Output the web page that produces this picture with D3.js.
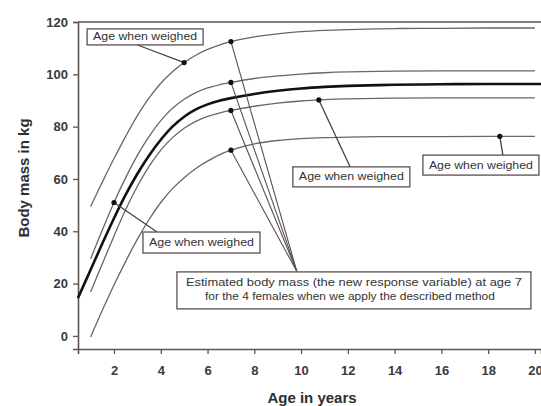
<!DOCTYPE html>
<html><head><meta charset="utf-8">
<script src="https://cdn.jsdelivr.net/npm/d3@7"></script>
<style>
body{margin:0;background:#fff;}
svg{display:block;font-family:"Liberation Sans",Arial,sans-serif;}
</style></head>
<body><svg id="c" width="541" height="406"></svg>
<script>
// ages (years) at which curve values were read
const agesThin = [1, 1.5, 2, 2.5, 3, 3.5, 4, 4.5, 5, 5.5, 6, 6.5, 7, 8, 9, 10, 11, 12, 14, 16, 18, 20];
const female1 = [49.5, 58.8, 67.8, 76.3, 84.2, 91, 96.6, 101, 104.5, 107.3, 109.5, 111.2, 112.5, 114.3, 115.5, 116.3, 116.8, 117.1, 117.5, 117.6, 117.7, 117.7];
const female2 = [29.5, 40.5, 51, 60.5, 69, 76.3, 82.3, 87, 90.5, 93, 94.8, 96, 96.9, 98.4, 99.4, 100.1, 100.6, 100.9, 101.2, 101.3, 101.3, 101.3];
const female3 = [16.8, 27.6, 38.2, 48.3, 57.2, 64.8, 71, 75.8, 79.4, 82, 83.9, 85.2, 86.2, 87.8, 89, 89.8, 90.3, 90.6, 90.9, 91, 91, 91];
const female4 = [-0.4, 9.8, 19.5, 28.5, 37, 44.5, 51, 56.3, 60.5, 64, 66.8, 69.2, 71, 73.4, 74.7, 75.4, 75.8, 76, 76.2, 76.2, 76.3, 76.3];
const agesMean = [0.46, 1, 1.5, 2, 2.5, 3, 3.5, 4, 4.5, 5, 5.5, 6, 6.5, 7, 8, 9, 10, 11, 12, 14, 16, 18, 20, 20.3];
const meanCurve = [14.5, 25.3, 35.3, 45, 54, 62, 69, 75, 80, 83.8, 86.6, 88.5, 89.9, 90.9, 92.5, 93.7, 94.6, 95.2, 95.6, 96, 96.2, 96.3, 96.3, 96.3];

// observed weighings (age, mass) and estimated mass at age 7
const weighedAge = [5, 2, 10.76, 18.5];
const weighedMass = [104.5, 51, 90.2, 76.3];
const age7 = 7;
const est7 = [112.5, 96.9, 86.2, 71];

const xTicks = [2, 4, 6, 8, 10, 12, 14, 16, 18, 20];
const yTicks = [0, 20, 40, 60, 80, 100, 120];

const labelText = "Age when weighed";
const noteLines = ["Estimated body mass (the new response variable) at age 7",
                   "for the 4 females when we apply the described method"];

const svg = d3.select("#c");
const x = d3.scaleLinear().domain([0.46, 20.26]).range([78, 541]);
const y = d3.scaleLinear().domain([-5, 120]).range([349, 22]);
const axisCol = "#5e5454";
const thinCol = "#6f6464";

// axes
const xa = svg.append("g").attr("transform", "translate(0,349)")
  .call(d3.axisBottom(x).tickValues(xTicks).tickSize(5).tickPadding(12).tickFormat(d3.format("d")));
const ya = svg.append("g").attr("transform", "translate(78,0)")
  .call(d3.axisLeft(y).tickValues(yTicks).tickSize(5).tickPadding(5).tickFormat(d3.format("d")));
[xa, ya].forEach(g => {
  g.select(".domain").attr("stroke", axisCol).attr("stroke-width", 1.6);
  g.selectAll(".tick line").attr("stroke", axisCol).attr("stroke-width", 1.3);
  g.selectAll(".tick text").attr("fill", "#3a3a3a").attr("font-size", 13).attr("font-weight", "bold")
    .attr("font-family", "Liberation Sans, Arial, sans-serif");
});
// top frame at 120
svg.append("line").attr("x1", x(0.46)).attr("x2", 541).attr("y1", y(120)).attr("y2", y(120))
  .attr("stroke", axisCol).attr("stroke-width", 1.6);

// titles
svg.append("text").attr("x", 312).attr("y", 403).attr("text-anchor", "middle")
  .attr("font-size", 15).attr("font-weight", "bold").attr("fill", "#2e2e2e").text("Age in years");
svg.append("text").attr("transform", "translate(29,178) rotate(-90)").attr("text-anchor", "middle")
  .attr("font-size", 15).attr("font-weight", "bold").attr("fill", "#2e2e2e").text("Body mass in kg");

// curves
const line = d3.line().x(d => x(d[0])).y(d => y(d[1])).curve(d3.curveCatmullRom.alpha(0.5));
[female1, female2, female3, female4].forEach(vals => {
  svg.append("path").datum(agesThin.map((a, i) => [a, vals[i]]))
    .attr("d", line).attr("fill", "none").attr("stroke", thinCol).attr("stroke-width", 1.3);
});
svg.append("path").datum(agesMean.map((a, i) => [a, meanCurve[i]]))
  .attr("d", line).attr("fill", "none").attr("stroke", "#111").attr("stroke-width", 2.6);

// annotation boxes (centres in data units)
const boxes = [
  {t: 3.33, m: 114.3, w: 116, h: 16, anchor: [2.98, 111.3], target: 0},
  {t: 5.74, m: 35.7, w: 117, h: 21, anchor: [3.84, 39.7], target: 1},
  {t: 12.15, m: 60.8, w: 117, h: 20, anchor: [12.1, 64.6], target: 2},
  {t: 17.69, m: 65.3, w: 116, h: 20, anchor: [18.63, 69.1], target: 3}
];
// connectors
boxes.forEach(b => {
  svg.append("line").attr("x1", x(b.anchor[0])).attr("y1", y(b.anchor[1]))
    .attr("x2", x(weighedAge[b.target])).attr("y2", y(weighedMass[b.target]))
    .attr("stroke", "#4a4040").attr("stroke-width", 1.3);
});
const noteAnchor = [9.82, 24.6];
est7.forEach(v => {
  svg.append("line").attr("x1", x(age7)).attr("y1", y(v))
    .attr("x2", x(noteAnchor[0])).attr("y2", y(noteAnchor[1]))
    .attr("stroke", "#5a5050").attr("stroke-width", 1.1);
});
// dots
svg.selectAll("circle.w").data(weighedAge.map((a, i) => [a, weighedMass[i]])).join("circle")
  .attr("cx", d => x(d[0])).attr("cy", d => y(d[1])).attr("r", 2.6).attr("fill", "#111");
svg.selectAll("circle.e").data(est7).join("circle")
  .attr("cx", x(age7)).attr("cy", d => y(d)).attr("r", 2.6).attr("fill", "#111");

boxes.forEach(b => {
  const cx = x(b.t), cy = y(b.m);
  svg.append("rect").attr("x", cx - b.w / 2).attr("y", cy - b.h / 2).attr("width", b.w).attr("height", b.h)
    .attr("fill", "#fff").attr("stroke", "#5a5050").attr("stroke-width", 1.3);
  svg.append("text").attr("x", cx).attr("y", cy + 3.5).attr("text-anchor", "middle")
    .attr("font-size", 10.5).attr("fill", "#333")
    .attr("textLength", b.w - 12).attr("lengthAdjust", "spacingAndGlyphs").text(labelText);
});
// note box
const nb = {t: 12.26, m: 17.4, w: 354, h: 37};
svg.append("rect").attr("x", x(nb.t) - nb.w / 2).attr("y", y(nb.m) - nb.h / 2).attr("width", nb.w).attr("height", nb.h)
  .attr("fill", "#fff").attr("stroke", "#5a5050").attr("stroke-width", 1.3);
noteLines.forEach((s, i) => {
  svg.append("text").attr("x", x(nb.t) + (i ? -4 : 0)).attr("y", y(nb.m) - 4 + i * 14).attr("text-anchor", "middle")
    .attr("font-size", 10.5).attr("fill", "#333")
    .attr("textLength", i ? 290 : 336).attr("lengthAdjust", "spacingAndGlyphs").text(s);
});
</script></body></html>
